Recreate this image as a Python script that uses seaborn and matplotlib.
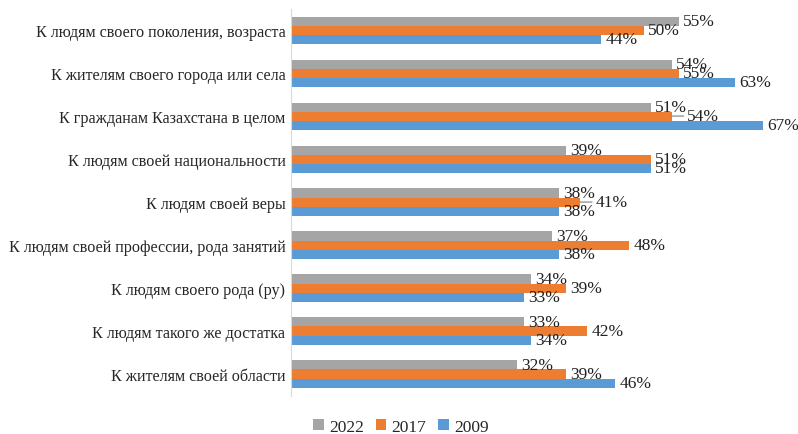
import matplotlib
matplotlib.use("Agg")
import matplotlib.pyplot as plt
import pandas as pd
import seaborn as sns

categories = [
    "К людям своего поколения, возраста",
    "К жителям своего города или села",
    "К гражданам Казахстана в целом",
    "К людям своей национальности",
    "К людям своей веры",
    "К людям своей профессии, рода занятий",
    "К людям своего рода (ру)",
    "К людям такого же достатка",
    "К жителям своей области",
]
years = ["2022", "2017", "2009"]
v2022 = [55, 54, 51, 39, 38, 37, 34, 33, 32]
v2017 = [50, 55, 54, 51, 41, 48, 39, 42, 39]
v2009 = [44, 63, 67, 51, 38, 38, 33, 34, 46]
colors = ["#A5A5A5", "#ED7D31", "#5B9BD5"]
# labels moved out with a leader line (series index, category index)
pushed = [(1, 2), (1, 4)]

rows = []
for year, vals in zip(years, [v2022, v2017, v2009]):
    for cat, v in zip(categories, vals):
        rows.append({"category": cat, "year": year, "value": v})
df = pd.DataFrame(rows)

sns.set_style("white")
plt.rcParams["font.family"] = ["Liberation Serif", "DejaVu Serif"]

fig = plt.figure(figsize=(7.98, 4.35), dpi=100)
ax = fig.add_axes([291 / 798, 0.0885, 0.975 - 291 / 798, 0.978 - 0.0885])

sns.barplot(
    data=df, y="category", x="value", hue="year", order=categories,
    hue_order=years, palette=colors, orient="h", width=0.63, gap=0,
    saturation=1, linewidth=0, ax=ax, legend=True,
)

for si, cont in enumerate(ax.containers):
    labels = []
    for ci, (v, bar) in enumerate(zip(cont.datavalues, cont.patches)):
        txt = f"{int(v)}%"
        if (si, ci) in pushed:
            ax.annotate(txt, xy=(v, bar.get_y() + bar.get_height() / 2),
                        xytext=(11, 0), textcoords="offset points",
                        va="center", ha="left", fontsize=12.5, color="#222222",
                        arrowprops=dict(arrowstyle="-", color="#7F7F7F", lw=0.8,
                                        shrinkA=0, shrinkB=0))
            labels.append("")
        else:
            labels.append(txt)
    ax.bar_label(cont, labels=labels, padding=3, fontsize=12.5, color="#222222")

ax.set_xlim(0, (0.975 * 798 - 291) / 7.05)
ax.set_ylim(8.5, -0.5)
ax.set_xlabel("")
ax.set_ylabel("")
ax.set_xticks([])
ax.tick_params(axis="y", length=0, labelsize=11.6, pad=4)
for s in ["top", "right", "bottom"]:
    ax.spines[s].set_visible(False)
ax.spines["left"].set_color("#D9D9D9")

handles, labels = ax.get_legend_handles_labels()
ax.get_legend().remove()
fig.legend(handles, labels, loc="center", bbox_to_anchor=(401 / 798, 1 - 428 / 435),
           ncol=3, frameon=False, fontsize=12.5, handlelength=0.6, handleheight=0.6,
           columnspacing=0.7, handletextpad=0.3)

fig.savefig("out.png", dpi=100)
